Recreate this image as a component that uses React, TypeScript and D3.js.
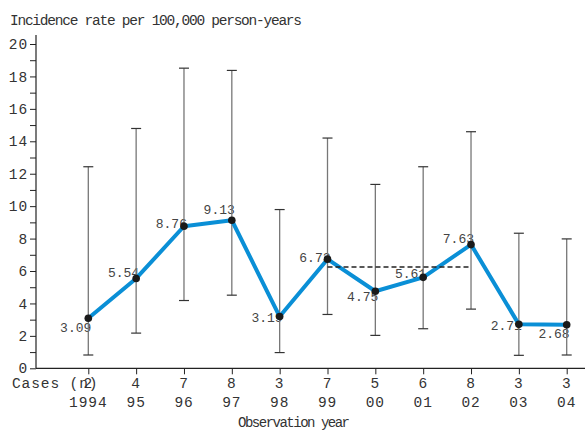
import React, { useEffect, useRef } from 'react';
import * as d3 from 'd3';

// chart values
const years = ['1994', '95', '96', '97', '98', '99', '00', '01', '02', '03', '04'];
const cases = [2, 4, 7, 8, 3, 7, 5, 6, 8, 3, 3];
const rates = [3.09, 5.54, 8.76, 9.13, 3.19, 6.73, 4.75, 5.61, 7.63, 2.71, 2.68];
const lower = [0.82, 2.17, 4.18, 4.51, 0.97, 3.32, 2.03, 2.44, 3.65, 0.8, 0.82];
const upper = [12.43, 14.79, 18.51, 18.37, 9.79, 14.2, 11.34, 12.43, 14.59, 8.33, 7.98];
const pooledRate = 6.25; // dashed reference, 1999-2002
const pooledFrom = '99';
const pooledTo = '02';
const yTicks = d3.range(0, 21);

// label offsets (px) relative to each point
const labelDy = [14, -1, 2, -6, 5, 3, 10, 1, -2, 6, 13];

const W = 585;
const H = 434;
const mono = '"Liberation Mono", "DejaVu Sans Mono", monospace';
const ink = '#333';
const axisFont = 14.5;
const axisSpacing = 0.9;

function App() {
  const yAxisRef = useRef<SVGGElement>(null);
  const xAxisRef = useRef<SVGGElement>(null);

  const x = d3.scalePoint<string>().domain(years).range([88.3, 566.7]);
  const y = d3.scaleLinear().domain([0, 20]).range([368.3, 44]);

  useEffect(() => {
    const ya = d3.select(yAxisRef.current);
    ya.selectAll('*').remove();
    ya.call(
      d3.axisLeft(y)
        .tickValues(yTicks)
        .tickSize(6)
        .tickSizeOuter(0)
        .tickPadding(2)
        .tickFormat((d: any) => (d % 2 === 0 ? String(d) : ''))
    );
    ya.select('.domain').remove();
    ya.selectAll('text')
      .attr('font-family', mono)
      .attr('font-size', axisFont)
      .attr('letter-spacing', axisSpacing)
      .attr('fill', ink);
    ya.selectAll('line').attr('stroke', '#222');

    const xa = d3.select(xAxisRef.current);
    xa.selectAll('*').remove();
    xa.call(d3.axisBottom(x).tickSize(6).tickSizeOuter(0).tickFormat(() => ''));
    xa.select('.domain').remove();
    xa.selectAll('line').attr('stroke', '#222');
  }, []);

  const line = d3.line<number>()
    .x((_, i) => x(years[i])!)
    .y(d => y(d));

  const axisText = { fontFamily: mono, fontSize: axisFont, letterSpacing: axisSpacing, fill: ink };

  return (
    <svg width={W} height={H} style={{ position: 'absolute', left: 0, top: 0, background: '#fff' }}>
      <text x={10} y={25} fontFamily={mono} fontSize={14.5} fill={ink}
        textLength={292} lengthAdjust="spacing">Incidence rate per 100,000 person-years</text>

      {/* axes */}
      <line x1={36} x2={36} y1={y(0)} y2={y(20.55)} stroke="#222" strokeWidth={1.2} />
      <line x1={36} x2={W} y1={y(0)} y2={y(0)} stroke="#222" strokeWidth={1.2} />
      <g ref={yAxisRef} transform="translate(36,0)" />
      <g ref={xAxisRef} transform={`translate(0,${y(0)})`} />

      {/* cases row and year row */}
      <text x={12} y={388} {...axisText}>Cases (n)</text>
      {years.map((yr, i) => (
        <g key={yr}>
          <text x={x(yr)} y={388} textAnchor="middle" {...axisText}>{cases[i]}</text>
          <text x={x(yr)} y={407} textAnchor="middle" {...axisText}>{yr}</text>
        </g>
      ))}
      <text x={294} y={427} textAnchor="middle" fontFamily={mono} fontSize={14} fill={ink}
        textLength={112} lengthAdjust="spacing">Observation year</text>

      {/* value labels */}
      {rates.map((r, i) => (
        <text key={'l' + i} x={x(years[i])! + 3} y={y(r) + labelDy[i]} textAnchor="end"
          fontFamily={mono} fontSize={13} fill="#444">{r.toFixed(2)}</text>
      ))}

      {/* confidence intervals */}
      {years.map((yr, i) => (
        <g key={'e' + yr}>
          <line x1={x(yr)} x2={x(yr)} y1={y(lower[i])} y2={y(upper[i])} stroke="#777" strokeWidth={1.3} />
          <line x1={x(yr)! - 5} x2={x(yr)! + 5} y1={y(lower[i])} y2={y(lower[i])} stroke="#333" strokeWidth={1.2} />
          <line x1={x(yr)! - 5} x2={x(yr)! + 5} y1={y(upper[i])} y2={y(upper[i])} stroke="#333" strokeWidth={1.2} />
        </g>
      ))}

      <path d={line(rates) || ''} fill="none" stroke="#0a8fd6" strokeWidth={4} strokeLinejoin="round" />

      <line x1={x(pooledFrom)} x2={x(pooledTo)} y1={y(pooledRate)} y2={y(pooledRate)}
        stroke="#222" strokeWidth={1.6} strokeDasharray="5,3" />

      {rates.map((r, i) => (
        <circle key={'p' + i} cx={x(years[i])} cy={y(r)} r={3.8} fill="#1a1a1a" />
      ))}
    </svg>
  );
}

export default App;
